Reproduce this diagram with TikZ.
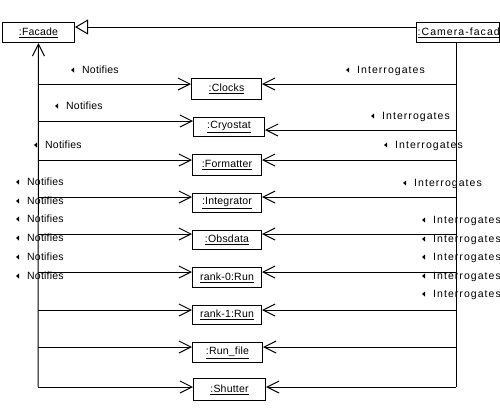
\documentclass[tikz,border=0pt]{standalone}
\usepackage{fontspec}
\setmainfont{Liberation Sans}[LetterSpace=2]
\newfontfamily\widefont{Liberation Sans}[LetterSpace=10]
\usetikzlibrary{arrows.meta}
\begin{document}
\begin{tikzpicture}[x=1pt,y=-1pt,
  every node/.style={font=\fontsize{10.5pt}{12pt}\selectfont},
  obj/.style={draw,line width=1pt,inner sep=0pt,anchor=north west},
  lab/.style={inner sep=0pt,anchor=base west},
  wlab/.style={inner sep=0pt,anchor=base west,font=\widefont\fontsize{10.5pt}{12pt}\selectfont},
  conn/.style={line width=1pt,-{Straight Barb[length=12pt,width=12pt]}},
  wire/.style={line width=1pt},
  tri/.style={fill=black}]
\useasboundingbox (0,0) rectangle (500,418);
% objects
\node[obj,minimum width=72pt,minimum height=20pt] (facade) at (2,22) {\underline{:Facade}};
\node[obj,minimum width=83pt,minimum height=20pt] (cam) at (416,22) {};
\begin{scope}
  \clip (cam.north west) rectangle (cam.south east);
  \node[wlab,anchor=west] (camtxt) at ([xshift=1.5pt]cam.west) {\underline{:Camera-facade}};
\end{scope}
\foreach \nm/\x/\y/\w/\h/\t in {
  clocks/191/78/70/21/{:Clocks},
  cryostat/193/117/71/19/{:Cryostat},
  formatter/192/154/69/21/{:Formatter},
  integrator/192/193/69/19/{:Integrator},
  obsdata/192/230/69/19/{:Obsdata},
  rankzero/192/267/69/20/{rank-0:Run},
  rankone/192/305/69/19/{rank-1:Run},
  runfile/192/342/70/20/{:Run\_file},
  shutter/193/378/72/22/{:Shutter}}
  \node[obj,minimum width=\w pt,minimum height=\h pt] (\nm) at (\x,\y) {\underline{\t}};
% generalization
\coordinate (g1) at (416,27);
\draw[wire,-{Triangle[open,length=13pt,width=15pt,fill=white]}] (g1) -- (g1 -| facade.east);
% left connectors (Notifies)
\foreach \nm/\y in {clocks/84,cryostat/121,formatter/160,integrator/197,obsdata/234,rankzero/272,rankone/310,runfile/347,shutter/387}{
  \coordinate (L\nm) at (38,\y);
  \draw[conn] (L\nm) -- (L\nm -| \nm.west);
}
\draw[wire,{Straight Barb[length=12pt,width=12pt]}-] (facade.south) -- (Lshutter);
% right connectors (Interrogates)
\foreach \nm/\y in {clocks/84,cryostat/130,formatter/160,integrator/197,obsdata/234,rankzero/272,rankone/310,runfile/347,shutter/387}{
  \coordinate (R\nm) at (456,\y);
  \draw[conn] (R\nm) -- (R\nm -| \nm.east);
}
\draw[wire] (cam.south -| Rclocks) -- (Rshutter);
% labels
\foreach \i/\x/\y in {1/82/70,2/66/106,3/45/145,4/27/182,5/27/201,6/27/219,7/27/238,8/27/257,9/27/276}{
  \node[lab] (n\i) at (\x,\y+3.8) {Notifies};
  \fill[tri] (\x-11,\y) -- ++(3,-2.5) -- ++(0,5) -- cycle;
}
\foreach \i/\x/\y in {1/357/70,2/382/116,3/395/145,4/414/183,5/433/220,6/433/239,7/433/257,8/433/276,9/433/294}{
  \node[wlab] (i\i) at (\x,\y+3.8) {Interrogates};
  \fill[tri] (\x-11,\y) -- ++(3,-2.5) -- ++(0,5) -- cycle;
}
\end{tikzpicture}
\end{document}
